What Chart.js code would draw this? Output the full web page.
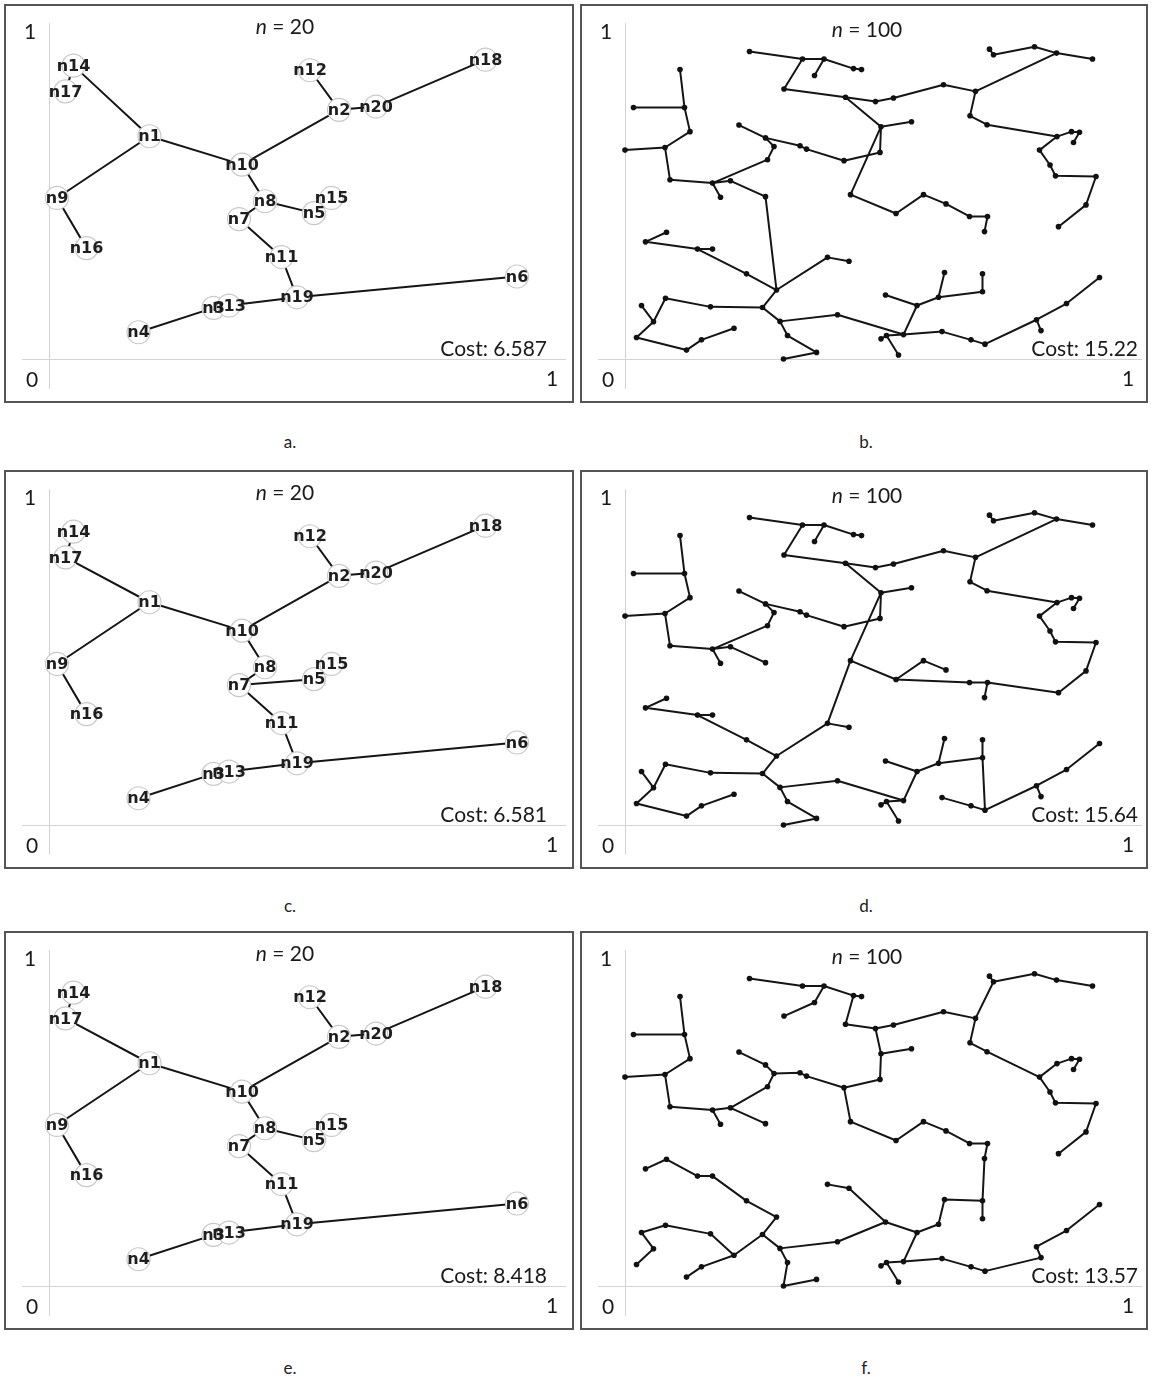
<!DOCTYPE html>
<html>
<head>
<meta charset="utf-8">
<script src="https://cdn.jsdelivr.net/npm/chart.js@4.4.0/dist/chart.umd.min.js"></script>
<style>
  body { margin: 0; background: #fff; width: 1151px; height: 1383px; position: relative; overflow: hidden; font-family: Lato, "Open Sans", sans-serif; }
  .panel { position: absolute; border: 2px solid #555; box-sizing: border-box; background: #fff; }
  .panel canvas { display: block; }
  .caption { position: absolute; font-size: 17px; color: #222; transform: translateX(-50%); line-height: 20px; }
</style>
</head>
<body>
<script>
// 20-node instances (a, c, e share the same nodes)
const nodes20 = [
  ['n1', 0.201, 0.675], ['n2', 0.580, 0.755], ['n3', 0.329, 0.155], ['n4', 0.179, 0.081],
  ['n5', 0.530, 0.442], ['n6', 0.936, 0.250], ['n7', 0.380, 0.424], ['n8', 0.432, 0.478],
  ['n9', 0.016, 0.488], ['n10', 0.386, 0.589], ['n11', 0.465, 0.309], ['n12', 0.522, 0.875],
  ['n13', 0.360, 0.162], ['n14', 0.049, 0.889], ['n15', 0.565, 0.488], ['n16', 0.075, 0.336],
  ['n17', 0.033, 0.811], ['n18', 0.873, 0.907], ['n19', 0.496, 0.187], ['n20', 0.654, 0.765]
];

const edgesA = ['n14-n1', 'n14-n17', 'n1-n9', 'n9-n16', 'n1-n10', 'n10-n2', 'n2-n12', 'n2-n20', 'n20-n18',
  'n10-n8', 'n8-n5', 'n5-n15', 'n8-n7', 'n7-n11', 'n11-n19', 'n19-n6', 'n19-n13', 'n13-n3', 'n3-n4'];
const edgesC = ['n14-n17', 'n17-n1', 'n1-n9', 'n9-n16', 'n1-n10', 'n10-n2', 'n2-n12', 'n2-n20', 'n20-n18',
  'n10-n8', 'n8-n7', 'n7-n5', 'n5-n15', 'n7-n11', 'n11-n19', 'n19-n6', 'n19-n13', 'n13-n3', 'n3-n4'];
const edgesE = ['n14-n17', 'n17-n1', 'n1-n9', 'n9-n16', 'n1-n10', 'n10-n2', 'n2-n12', 'n2-n20', 'n20-n18',
  'n10-n8', 'n8-n5', 'n5-n15', 'n8-n7', 'n7-n11', 'n11-n19', 'n19-n6', 'n19-n13', 'n13-n3', 'n3-n4'];

// 100-node instances (b, d, f share the same points)
const sites100 = [
  ['P1', 0.249, 0.932], ['P2', 0.355, 0.909], ['P3', 0.398, 0.909], ['P4', 0.379, 0.859],
  ['P5', 0.457, 0.880], ['P6', 0.473, 0.877], ['P7', 0.318, 0.818], ['P8', 0.441, 0.793],
  ['Q1', 0.110, 0.877], ['Q2', 0.119, 0.762], ['Q3', 0.017, 0.762], ['Q4', 0.130, 0.689],
  ['Q5', 0.080, 0.641], ['Q6', 0.000, 0.633], ['Q7', 0.090, 0.543], ['Q8', 0.175, 0.533],
  ['Q9', 0.191, 0.490], ['Q10', 0.211, 0.540], ['Q11', 0.281, 0.492], ['Q12', 0.285, 0.604],
  ['Q13', 0.298, 0.644], ['Q14', 0.281, 0.670], ['Q15', 0.228, 0.709], ['Q16', 0.350, 0.646],
  ['Q17', 0.363, 0.636], ['Q18', 0.438, 0.601],
  ['L1', 0.083, 0.384], ['L2', 0.041, 0.355], ['L3', 0.145, 0.333], ['L4', 0.175, 0.333],
  ['L5', 0.243, 0.258], ['R1', 0.303, 0.209], ['L6', 0.405, 0.308], ['L7', 0.448, 0.296],
  ['L8', 0.275, 0.156], ['L9', 0.171, 0.158], ['L10', 0.081, 0.184], ['L11', 0.057, 0.113],
  ['L12', 0.033, 0.162], ['L13', 0.023, 0.065], ['L14', 0.123, 0.027], ['L15', 0.153, 0.058],
  ['L16', 0.218, 0.093], ['L17', 0.310, 0.114], ['L18', 0.425, 0.134], ['L19', 0.325, 0.071],
  ['L20', 0.383, 0.020], ['L21', 0.317, 0.000],
  ['A1', 0.729, 0.939], ['A2', 0.737, 0.922], ['A3', 0.819, 0.946], ['A4', 0.863, 0.927],
  ['A5', 0.935, 0.909], ['A6', 0.701, 0.811], ['A7', 0.637, 0.831], ['A8', 0.537, 0.791],
  ['A9', 0.501, 0.780], ['A11', 0.690, 0.737], ['A12', 0.724, 0.710], ['A13', 0.864, 0.674],
  ['A14', 0.893, 0.689], ['A15', 0.909, 0.687], ['A16', 0.897, 0.656], ['A17', 0.829, 0.633],
  ['A18', 0.850, 0.588], ['A19', 0.861, 0.555], ['A20', 0.942, 0.553], ['A21', 0.922, 0.467],
  ['A22', 0.867, 0.401], ['S3', 0.512, 0.704], ['A23', 0.573, 0.719], ['S2', 0.510, 0.626],
  ['M1', 0.451, 0.498], ['A24', 0.542, 0.441], ['A25', 0.597, 0.498], ['A26', 0.642, 0.470],
  ['A27', 0.689, 0.432], ['A28', 0.725, 0.432], ['A29', 0.719, 0.386],
  ['B1', 0.639, 0.262], ['B2', 0.627, 0.187], ['B3', 0.715, 0.258], ['B4', 0.715, 0.204],
  ['B5', 0.521, 0.194], ['B6', 0.584, 0.162], ['B7', 0.557, 0.074], ['B8', 0.523, 0.071],
  ['B9', 0.512, 0.061], ['B10', 0.547, 0.012], ['B11', 0.634, 0.083], ['B12', 0.692, 0.058],
  ['B13', 0.720, 0.045], ['B14', 0.823, 0.119], ['B15', 0.832, 0.086], ['B16', 0.883, 0.168],
  ['B17', 0.949, 0.247]
];

const edgesB = [
  'P1-P2', 'P2-P3', 'P3-P4', 'P3-P5', 'P5-P6', 'P2-P7', 'P7-P8', 'P8-A9', 'P8-S3',
  'A9-A8', 'A8-A7', 'A7-A6', 'A6-A4', 'A4-A3', 'A4-A5', 'A3-A2', 'A2-A1', 'A6-A11', 'A11-A12',
  'A12-A13', 'A13-A14', 'A14-A15', 'A15-A16', 'A13-A17', 'A17-A18', 'A18-A19', 'A19-A20',
  'A20-A21', 'A21-A22', 'S3-A23', 'S3-S2', 'S3-M1', 'S2-Q18', 'M1-A24', 'A24-A25', 'A25-A26',
  'A26-A27', 'A27-A28', 'A28-A29',
  'Q1-Q2', 'Q3-Q2', 'Q2-Q4', 'Q4-Q5', 'Q5-Q6', 'Q5-Q7', 'Q7-Q8', 'Q8-Q9', 'Q8-Q12', 'Q8-Q10',
  'Q10-Q11', 'Q12-Q13', 'Q13-Q14', 'Q14-Q15', 'Q14-Q16', 'Q16-Q17', 'Q17-Q18',
  'Q11-R1', 'L2-L1', 'L2-L3', 'L3-L4', 'L3-L5', 'L5-R1', 'R1-L6', 'L6-L7', 'R1-L8', 'L8-L9',
  'L9-L10', 'L10-L11', 'L11-L12', 'L11-L13', 'L13-L14', 'L14-L15', 'L15-L16', 'L8-L17',
  'L17-L18', 'L17-L19', 'L19-L20', 'L20-L21', 'L18-B7',
  'B1-B2', 'B3-B4', 'B4-B2', 'B2-B6', 'B5-B6', 'B6-B7', 'B7-B8', 'B8-B9', 'B8-B10', 'B7-B11',
  'B11-B12', 'B12-B13', 'B13-B14', 'B14-B15', 'B14-B16', 'B16-B17'
];

const edgesD = [
  'P1-P2', 'P2-P3', 'P3-P4', 'P3-P5', 'P5-P6', 'P2-P7', 'P7-P8', 'P8-A9', 'P8-S3',
  'A9-A8', 'A8-A7', 'A7-A6', 'A6-A4', 'A4-A3', 'A4-A5', 'A3-A2', 'A2-A1', 'A6-A11', 'A11-A12',
  'A12-A13', 'A13-A14', 'A14-A15', 'A15-A16', 'A13-A17', 'A17-A18', 'A18-A19', 'A19-A20',
  'A20-A21', 'A21-A22', 'S3-A23', 'S3-S2', 'S3-M1', 'S2-Q18', 'M1-A24', 'A24-A25', 'A25-A26',
  'A24-A27', 'A27-A28', 'A28-A29', 'A28-A22',
  'Q1-Q2', 'Q3-Q2', 'Q2-Q4', 'Q4-Q5', 'Q5-Q6', 'Q5-Q7', 'Q7-Q8', 'Q8-Q9', 'Q8-Q12', 'Q8-Q10',
  'Q10-Q11', 'Q12-Q13', 'Q13-Q14', 'Q14-Q15', 'Q14-Q16', 'Q16-Q17', 'Q17-Q18',
  'M1-L6', 'L2-L1', 'L2-L3', 'L3-L4', 'L3-L5', 'L5-R1', 'R1-L6', 'L6-L7', 'R1-L8', 'L8-L9',
  'L9-L10', 'L10-L11', 'L11-L12', 'L11-L13', 'L13-L14', 'L14-L15', 'L15-L16', 'L8-L17',
  'L17-L18', 'L17-L19', 'L19-L20', 'L20-L21', 'L18-B7',
  'B1-B2', 'B3-B4', 'B4-B2', 'B2-B6', 'B5-B6', 'B6-B7', 'B7-B8', 'B8-B9', 'B8-B10', 'B4-B13',
  'B11-B12', 'B12-B13', 'B13-B14', 'B14-B15', 'B14-B16', 'B16-B17'
];

const edgesF = [
  'P1-P2', 'P2-P3', 'P3-P4', 'P4-P7', 'P3-P5', 'P5-P6', 'P5-P8', 'P8-A9', 'A9-S3',
  'A9-A8', 'A8-A7', 'A7-A6', 'A6-A2', 'A1-A2', 'A2-A3', 'A3-A4', 'A4-A5', 'A6-A11', 'A11-A12',
  'A12-A17', 'A17-A13', 'A13-A14', 'A14-A15', 'A15-A16', 'A17-A18', 'A18-A19', 'A19-A20',
  'A20-A21', 'A21-A22', 'S3-A23', 'S3-S2', 'S2-Q18', 'Q18-M1', 'M1-A24', 'A24-A25', 'A25-A26',
  'A26-A27', 'A27-A28', 'A28-A29', 'A29-B3',
  'Q1-Q2', 'Q3-Q2', 'Q2-Q4', 'Q4-Q5', 'Q5-Q6', 'Q5-Q7', 'Q7-Q8', 'Q8-Q9', 'Q8-Q10', 'Q10-Q11',
  'Q10-Q12', 'Q12-Q13', 'Q13-Q14', 'Q14-Q15', 'Q13-Q16', 'Q16-Q17', 'Q17-Q18',
  'L2-L1', 'L1-L3', 'L3-L4', 'L4-L5', 'L5-R1', 'R1-L8', 'L8-L16', 'L16-L15', 'L15-L14', 'L16-L9',
  'L9-L10', 'L10-L12', 'L12-L11', 'L11-L13', 'L8-L17', 'L17-L18', 'L17-L19', 'L19-L21', 'L21-L20',
  'L6-L7', 'L7-B5', 'L18-B5',
  'B3-B1', 'B1-B2', 'B3-B4', 'B2-B6', 'B5-B6', 'B6-B7', 'B7-B8', 'B8-B9', 'B8-B10', 'B7-B11',
  'B11-B12', 'B12-B13', 'B13-B15', 'B15-B14', 'B14-B16', 'B16-B17'
];

const sizes = [20, 100, 20, 100, 20, 100];
const costs = ['6.587', '15.22', '6.581', '15.64', '8.418', '13.57'];
const captions = ['a.', 'b.', 'c.', 'd.', 'e.', 'f.'];

// layout
const colX = [4, 580], colW = [570, 568], rowY = [4, 470, 931], panelH = 399;
const captionY = [442, 906, 1368], captionX = [290, 866];
const axisLeft = 43, axisBottom = 353, unitX = 500, unitY = 330;
const titlePos = [[279, 21], [285, 24]];
const costRight = [541, 556];

function edgeData(points, edges) {
  const byName = {};
  points.forEach(p => { byName[p[0]] = p; });
  const out = [];
  edges.forEach(e => {
    const [a, b] = e.split('-').map(n => byName[n]);
    out.push({ x: a[1], y: a[2] }, { x: b[1], y: b[2] }, { x: null, y: null });
  });
  return out;
}

function decorPlugin(cfg) {
  return {
    id: 'decor',
    beforeDatasetsDraw(chart) {
      const { ctx, scales: { x, y } } = chart;
      const x0 = Math.round(x.getPixelForValue(0)) + 0.5;
      const y0 = Math.round(y.getPixelForValue(0)) + 0.5;
      ctx.save();
      ctx.strokeStyle = '#d2d2d2';
      ctx.lineWidth = 1;
      ctx.beginPath();
      ctx.moveTo(x0, y.getPixelForValue(1.018));
      ctx.lineTo(x0, y.getPixelForValue(-0.09));
      ctx.moveTo(x.getPixelForValue(-0.054), y0);
      ctx.lineTo(x.getPixelForValue(1.034), y0);
      ctx.stroke();
      ctx.restore();
    },
    afterDatasetsDraw(chart) {
      const { ctx, scales: { x, y } } = chart;
      const x0 = x.getPixelForValue(0), y0 = y.getPixelForValue(0);
      ctx.save();
      ctx.fillStyle = '#1a1a1a';
      ctx.textBaseline = 'middle';
      ctx.textAlign = 'center';
      ctx.font = '21px Lato';
      ctx.fillText('1', x0 - 19, y.getPixelForValue(1) + 3);
      ctx.fillText('0', x0 - 17, y0 + 21);
      ctx.fillText('1', x.getPixelForValue(1) + 3, y0 + 20);

      // title with italic n
      const rest = ' = ' + cfg.n;
      ctx.font = 'italic 21px Lato';
      const wn = ctx.measureText('n').width;
      ctx.font = '21px Lato';
      const wr = ctx.measureText(rest).width;
      const start = cfg.title[0] - (wn + wr) / 2;
      ctx.textAlign = 'left';
      ctx.font = 'italic 21px Lato';
      ctx.fillText('n', start, cfg.title[1]);
      ctx.font = '21px Lato';
      ctx.fillText(rest, start + wn, cfg.title[1]);

      ctx.textAlign = 'right';
      ctx.fillText('Cost: ' + cfg.cost, cfg.costX, 343);

      if (cfg.labels) {
        ctx.textAlign = 'center';
        ctx.font = 'bold 16px "DejaVu Sans"';
        ctx.fillStyle = '#1e1e1e';
        cfg.labels.forEach(p => {
          ctx.fillText(p[0], x.getPixelForValue(p[1]), y.getPixelForValue(p[2]) + 1);
        });
      }
      ctx.restore();
    }
  };
}

const edgeSets = [edgesA, edgesB, edgesC, edgesD, edgesE, edgesF];

for (let i = 0; i < 6; i++) {
  const row = Math.floor(i / 2), col = i % 2;
  const div = document.createElement('div');
  div.className = 'panel';
  div.style.left = colX[col] + 'px';
  div.style.top = rowY[row] + 'px';
  div.style.width = colW[col] + 'px';
  div.style.height = panelH + 'px';
  const w = colW[col] - 4, h = panelH - 4;
  const canvas = document.createElement('canvas');
  canvas.width = w;
  canvas.height = h;
  div.appendChild(canvas);
  document.body.appendChild(div);

  const cap = document.createElement('div');
  cap.className = 'caption';
  cap.textContent = captions[i];
  cap.style.left = captionX[col] + 'px';
  cap.style.top = (captionY[row] - 10) + 'px';
  document.body.appendChild(cap);

  const small = col === 0;
  const pts = small ? nodes20 : sites100;
  const datasets = [
    {
      data: pts.map(p => ({ x: p[1], y: p[2] })),
      showLine: false,
      pointRadius: small ? 11.5 : 2.8,
      pointBackgroundColor: small ? '#ffffff' : '#111',
      pointBorderColor: small ? '#c8c8c8' : '#111',
      pointBorderWidth: small ? 1.2 : 0,
      order: 1,
      clip: false
    },
    {
      data: edgeData(pts, edgeSets[i]),
      showLine: true,
      spanGaps: false,
      borderColor: '#151515',
      borderWidth: 2,
      pointRadius: 0,
      order: 2,
      clip: false
    }
  ];

  new Chart(canvas, {
    type: 'scatter',
    data: { datasets },
    options: {
      responsive: false,
      devicePixelRatio: 1,
      animation: false,
      events: [],
      layout: { padding: 0, autoPadding: false },
      plugins: { legend: { display: false }, tooltip: { enabled: false } },
      scales: {
        x: { type: 'linear', display: false, min: -axisLeft / unitX, max: (w - axisLeft) / unitX },
        y: { type: 'linear', display: false, min: -(h - axisBottom) / unitY, max: axisBottom / unitY }
      }
    },
    plugins: [decorPlugin({
      n: sizes[i],
      cost: costs[i],
      title: titlePos[col],
      costX: costRight[col],
      labels: small ? nodes20 : null
    })]
  });
}
</script>
</body>
</html>
